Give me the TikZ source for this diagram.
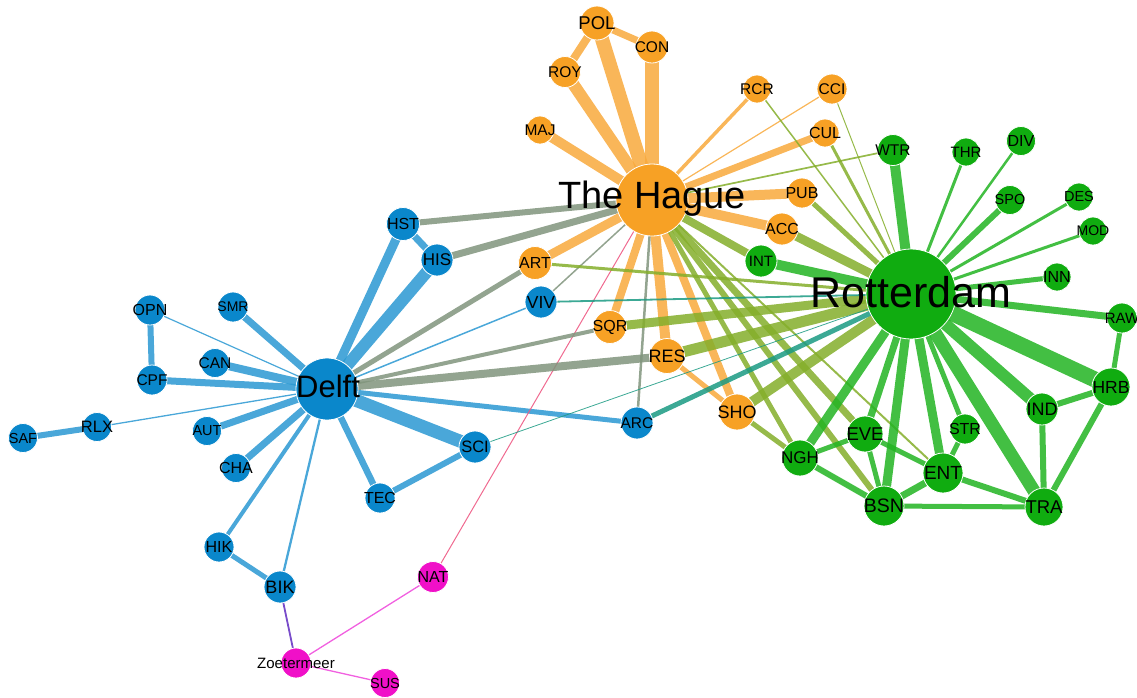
\documentclass[tikz,border=0pt]{standalone}
\usepackage{fontspec}
\setmainfont{Liberation Sans}
\pgfdeclarelayer{bg}
\pgfsetlayers{bg,main}
\definecolor{nOr}{HTML}{F7A125}
\definecolor{nBl}{HTML}{0A87CB}
\definecolor{nGr}{HTML}{10AC10}
\definecolor{nMg}{HTML}{F010C8}
\definecolor{eOr}{HTML}{F8A93C}
\definecolor{eBl}{HTML}{2A98D2}
\definecolor{eGr}{HTML}{22B422}
\definecolor{eOl}{HTML}{84AE2A}
\definecolor{eGy}{HTML}{80947C}
\definecolor{eTl}{HTML}{1A9A82}
\definecolor{ePk}{HTML}{EE5A84}
\definecolor{eMg}{HTML}{EE44DA}
\definecolor{ePu}{HTML}{6A38C4}
\newcommand\fz[1]{\fontsize{#1}{#1}\selectfont}
% style, diameter, fontsize, name, x, y, text
\newcommand\nd[7]{%
  \node[#1, minimum size=#2pt] (#4) at (#5,#6) {};
  \node[font=\fz{#3}, inner sep=0pt, text=black] (#4-t) at (#5,#6) {#7};}
% style, width, from, to
\newcommand\ed[4]{\draw[#1, line width=#2pt] (#3.center) -- (#4.center);}
\tikzset{
  nd/.style={circle, draw=white, line width=0.8pt, inner sep=0pt},
  orn/.style={nd, fill=nOr},
  blu/.style={nd, fill=nBl},
  grn/.style={nd, fill=nGr},
  mag/.style={nd, fill=nMg},
  eo/.style={eOr, opacity=0.85},
  eb/.style={eBl, opacity=0.85},
  eg/.style={eGr, opacity=0.85},
  el/.style={eOl, opacity=0.85},
  ey/.style={eGy, opacity=0.85},
  et/.style={eTl, opacity=0.85},
  ep/.style={ePk, opacity=0.9},
  em/.style={eMg, opacity=0.85},
  eu/.style={ePu, opacity=0.9},
}
\begin{document}
\begin{tikzpicture}[x=1pt,y=-1pt]
\useasboundingbox (0,0) rectangle (1137,697);
% hubs
\node[orn, minimum size=72pt] (TH) at (652,200) {};
\node[grn, minimum size=90pt] (R) at (911,294) {};
\node[blu, minimum size=62pt] (D) at (327,389) {};
% orange
\nd{orn}{34}{18.5}{POL}{597}{23}{POL}
\nd{orn}{32}{15.5}{CON}{652}{47}{CON}
\nd{orn}{31}{15.5}{ROY}{565}{72}{ROY}
\nd{orn}{28}{15.5}{MAJ}{540}{130}{MAJ}
\nd{orn}{28}{15.5}{RCR}{757}{89}{RCR}
\nd{orn}{30}{15.5}{CCI}{832}{89}{CCI}
\nd{orn}{28}{16}{CUL}{825}{133}{CUL}
\nd{orn}{30}{16}{PUB}{802}{193}{PUB}
\nd{orn}{32}{16}{ACC}{782}{229}{ACC}
\nd{orn}{33}{16}{ART}{535}{263}{ART}
\nd{orn}{33}{16}{SQR}{610}{327}{SQR}
\nd{orn}{35}{18}{RES}{667}{356}{RES}
\nd{orn}{36}{18}{SHO}{737}{412}{SHO}
% blue
\nd{blu}{33}{16}{HST}{403}{224}{HST}
\nd{blu}{32}{17}{HIS}{437}{260}{HIS}
\nd{blu}{32}{17.5}{VIV}{541}{302}{VIV}
\nd{blu}{32}{15.5}{ARC}{637}{423}{ARC}
\nd{blu}{32}{16.5}{SCI}{475}{447}{SCI}
\nd{blu}{30}{16}{OPN}{150}{310}{OPN}
\nd{blu}{30}{14}{SMR}{233}{307}{SMR}
\nd{blu}{29}{15.5}{CAN}{215}{363}{CAN}
\nd{blu}{30}{15.5}{CPF}{152}{380}{CPF}
\nd{blu}{29}{16.5}{RLX}{97}{427}{RLX}
\nd{blu}{29}{14.5}{SAF}{23}{438}{SAF}
\nd{blu}{29}{14.5}{AUT}{207}{431}{AUT}
\nd{blu}{29}{16}{CHA}{236}{468}{CHA}
\nd{blu}{30}{16}{TEC}{380}{498}{TEC}
\nd{blu}{30}{16}{HIK}{219}{547}{HIK}
\nd{blu}{32}{18}{BIK}{280}{587}{BIK}
% magenta
\nd{mag}{31}{16}{NAT}{433}{577}{NAT}
\nd{mag}{30}{15}{ZOE}{296}{663}{Zoetermeer}
\nd{mag}{29}{14.5}{SUS}{385}{683}{SUS}
% green
\nd{grn}{31}{15.5}{WTR}{893}{150}{WTR}
\nd{grn}{28}{15}{THR}{966}{152}{THR}
\nd{grn}{29}{16}{DIV}{1021}{141}{DIV}
\nd{grn}{29}{14.5}{SPO}{1010}{200}{SPO}
\nd{grn}{28}{14.5}{DES}{1079}{197}{DES}
\nd{grn}{28}{14}{MOD}{1093}{231}{MOD}
\nd{grn}{28}{16}{INN}{1057}{277}{INN}
\nd{grn}{30}{15}{RAW}{1122}{318}{RAW}
\nd{grn}{32}{15}{INT}{761}{261}{INT}
\nd{grn}{36}{17}{NGH}{800}{458}{NGH}
\nd{grn}{36}{18.5}{EVE}{865}{434}{EVE}
\nd{grn}{30}{16}{STR}{965}{429}{STR}
\nd{grn}{40}{19}{ENT}{943}{473}{ENT}
\nd{grn}{40}{19.5}{BSN}{884}{506}{BSN}
\nd{grn}{38}{18.5}{TRA}{1044}{507}{TRA}
\nd{grn}{32}{18}{IND}{1042}{409}{IND}
\nd{grn}{38}{17.5}{HRB}{1111}{387}{HRB}
% hub labels
\node[font=\fz{38}, inner sep=0pt] (TH-t) at (652,199) {The Hague};
\node[font=\fz{43}, inner sep=0pt] (R-t) at (911,292) {Rotterdam};
\node[font=\fz{31}, inner sep=0pt] (D-t) at (328,386) {Delft};
\begin{pgfonlayer}{bg}
% Delft blue
\ed{eb}{9}{D}{HST}
\ed{eb}{12}{D}{HIS}
\ed{eb}{7}{HST}{HIS}
\ed{eb}{1.5}{D}{VIV}
\ed{eb}{5}{D}{ARC}
\ed{eb}{13}{D}{SCI}
\ed{eb}{7}{D}{SMR}
\ed{eb}{1.2}{D}{OPN}
\ed{eb}{6}{OPN}{CPF}
\ed{eb}{8}{D}{CAN}
\ed{eb}{7}{D}{CPF}
\ed{eb}{1.3}{D}{RLX}
\ed{eb}{6}{RLX}{SAF}
\ed{eb}{7}{D}{AUT}
\ed{eb}{7}{D}{CHA}
\ed{eb}{6.5}{D}{TEC}
\ed{eb}{6}{TEC}{SCI}
\ed{eb}{4}{D}{HIK}
\ed{eb}{5}{HIK}{BIK}
\ed{eb}{2.3}{D}{BIK}
% magenta
\ed{eu}{1.8}{BIK}{ZOE}
\ed{em}{1.3}{ZOE}{NAT}
\ed{em}{1.3}{ZOE}{SUS}
\ed{ep}{1}{NAT}{TH}
% grey (Delft - The Hague)
\ed{ey}{6}{HST}{TH}
\ed{ey}{7}{HIS}{TH}
\ed{ey}{5}{D}{ART}
\ed{ey}{4}{D}{SQR}
\ed{ey}{8}{D}{RES}
\ed{ey}{1.5}{VIV}{TH}
\ed{ey}{2.5}{ARC}{TH}
% orange
\ed{eo}{14}{TH}{POL}
\ed{eo}{14}{TH}{CON}
\ed{eo}{12}{TH}{ROY}
\ed{eo}{10}{TH}{MAJ}
\ed{eo}{8}{POL}{ROY}
\ed{eo}{7}{POL}{CON}
\ed{eo}{3.5}{TH}{RCR}
\ed{eo}{1.2}{TH}{CCI}
\ed{eo}{7}{TH}{CUL}
\ed{eo}{10}{TH}{PUB}
\ed{eo}{10}{TH}{ACC}
\ed{eo}{9}{TH}{ART}
\ed{eo}{8}{TH}{SQR}
\ed{eo}{10}{TH}{RES}
\ed{eo}{8}{TH}{SHO}
\ed{eo}{5}{RES}{SHO}
% olive (The Hague - Rotterdam)
\ed{el}{3}{ART}{R}
\ed{el}{9}{SQR}{R}
\ed{el}{11}{RES}{R}
\ed{el}{10}{SHO}{R}
\ed{el}{5}{SHO}{NGH}
\ed{el}{9}{ACC}{R}
\ed{el}{5}{PUB}{R}
\ed{el}{3}{CUL}{R}
\ed{el}{1.5}{RCR}{R}
\ed{el}{1}{CCI}{R}
\ed{el}{1.7}{TH}{WTR}
\ed{el}{8}{TH}{INT}
\ed{el}{5}{TH}{NGH}
\ed{el}{7}{TH}{EVE}
\ed{el}{6}{TH}{BSN}
\ed{el}{2}{TH}{ENT}
% teal (Delft - Rotterdam)
\ed{et}{1.8}{VIV}{R}
\ed{et}{5}{ARC}{R}
\ed{et}{0.8}{SCI}{R}
% green
\ed{eg}{10}{R}{WTR}
\ed{eg}{3}{R}{THR}
\ed{eg}{2.5}{R}{DIV}
\ed{eg}{6}{R}{SPO}
\ed{eg}{3}{R}{DES}
\ed{eg}{3}{R}{MOD}
\ed{eg}{5}{R}{INN}
\ed{eg}{7}{R}{RAW}
\ed{eg}{10}{R}{INT}
\ed{eg}{16}{R}{HRB}
\ed{eg}{12}{R}{IND}
\ed{eg}{13}{R}{TRA}
\ed{eg}{5}{R}{STR}
\ed{eg}{9}{R}{ENT}
\ed{eg}{9}{R}{BSN}
\ed{eg}{7}{R}{EVE}
\ed{eg}{9}{R}{NGH}
\ed{eg}{5}{RAW}{HRB}
\ed{eg}{6}{HRB}{IND}
\ed{eg}{6}{HRB}{TRA}
\ed{eg}{6}{IND}{TRA}
\ed{eg}{5}{NGH}{EVE}
\ed{eg}{6}{NGH}{BSN}
\ed{eg}{5}{EVE}{BSN}
\ed{eg}{5}{EVE}{ENT}
\ed{eg}{5}{STR}{ENT}
\ed{eg}{7}{ENT}{BSN}
\ed{eg}{6}{ENT}{TRA}
\ed{eg}{5}{BSN}{TRA}
\end{pgfonlayer}
\end{tikzpicture}
\end{document}
